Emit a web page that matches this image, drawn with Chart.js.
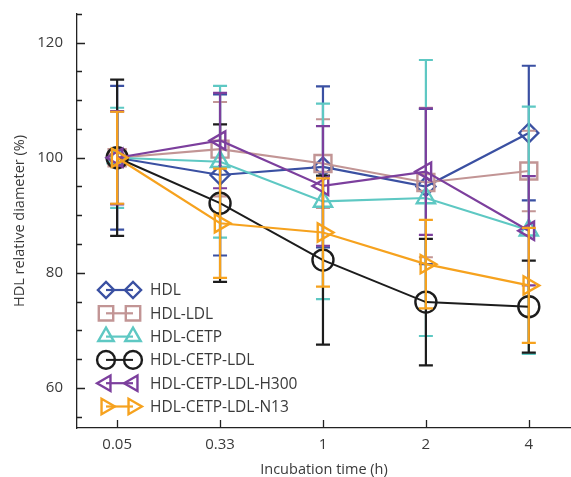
<!DOCTYPE html>
<html><head><meta charset="utf-8">
<script src="https://cdn.jsdelivr.net/npm/chart.js@4/dist/chart.umd.min.js"></script>
<style>html,body{margin:0;padding:0;background:#fff}#wrap{width:571px;height:477px}</style>
</head><body><div id="wrap"><canvas id="c" width="571" height="477"></canvas></div>
<script>
// ---- data ----
const timeLabels = ['0.05', '0.33', '1', '2', '4'];
const seriesNames = ['HDL', 'HDL-LDL', 'HDL-CETP', 'HDL-CETP-LDL', 'HDL-CETP-LDL-H300', 'HDL-CETP-LDL-N13'];
const hdl = [100, 97.0, 98.4, 95.0, 104.3];
const hdlErr = [12.5, 14.0, 14.0, 13.5, 11.7];
const hdlLdl = [100, 101.5, 99.0, 95.7, 97.7];
const hdlLdlErr = [8.0, 8.2, 7.7, 13.0, 7.0];
const hdlCetp = [100, 99.3, 92.4, 93.0, 87.4];
const hdlCetpErr = [8.7, 13.2, 17.0, 24.0, 21.5];
const hdlCetpLdl = [100, 92.1, 82.2, 74.9, 74.1];
const hdlCetpLdlErr = [13.6, 13.7, 14.7, 11.0, 8.0];
const hdlCetpLdlH300 = [100, 103.0, 95.1, 97.6, 87.3];
const hdlCetpLdlH300Err = [8.1, 8.3, 10.4, 11.0, 9.5];
const hdlCetpLdlN13 = [100, 88.6, 87.0, 81.5, 77.8];
const hdlCetpLdlN13Err = [8.0, 9.5, 9.4, 7.7, 10.0];
const yTicks = [60, 80, 100, 120];
const yMinorStep = 5;

const allValues = [hdl, hdlLdl, hdlCetp, hdlCetpLdl, hdlCetpLdlH300, hdlCetpLdlN13];
const allErrors = [hdlErr, hdlLdlErr, hdlCetpErr, hdlCetpLdlErr, hdlCetpLdlH300Err, hdlCetpLdlN13Err];

// ---- styles ----
const colors = ['#3a50a2', '#c29595', '#5ec8c3', '#1c1c1c', '#7c3f9d', '#f6a21e'];
const pStyles = ['rectRot', 'rect', 'triangle', 'circle', 'triangle', 'triangle'];
const pRot = [0, 0, 0, 0, -90, 90];
const pRad = [9.5, 12, 10.5, 10.5, 10.5, 10.5];
const lineW = [2.2, 2.2, 2.2, 2, 2.2, 2.2];
const textColor = '#3a3a3a';
const fontFam = "'Open Sans', 'Noto Sans', sans-serif";

const datasets = seriesNames.map((name, s) => ({
  label: name,
  data: allValues[s].map((v, i) => ({x: i, y: v})),
  errors: allErrors[s],
  borderColor: colors[s],
  borderWidth: lineW[s],
  backgroundColor: 'rgba(0,0,0,0)',
  pointStyle: pStyles[s],
  pointRotation: pRot[s],
  pointRadius: pRad[s],
  pointBorderWidth: 2.4,
  pointBorderColor: colors[s],
  pointBackgroundColor: 'rgba(0,0,0,0)',
  tension: 0,
  fill: false,
  order: seriesNames.length - s,
  clip: false
}));

const errorBars = {
  id: 'errorBars',
  beforeDatasetDraw(chart, args) {
    const ds = chart.data.datasets[args.index];
    const xs = chart.scales.x, ys = chart.scales.y, ctx = chart.ctx;
    ctx.save();
    ctx.strokeStyle = ds.borderColor;
    ctx.lineWidth = 2.2;
    ds.data.forEach((p, i) => {
      const e = ds.errors[i];
      const x = xs.getPixelForValue(p.x);
      const y1 = ys.getPixelForValue(p.y + e), y2 = ys.getPixelForValue(p.y - e);
      ctx.beginPath();
      ctx.moveTo(x, y1); ctx.lineTo(x, y2);
      ctx.moveTo(x - 7, y1); ctx.lineTo(x + 7, y1);
      ctx.moveTo(x - 7, y2); ctx.lineTo(x + 7, y2);
      ctx.stroke();
    });
    ctx.restore();
  }
};

const axisTicks = {
  id: 'axisTicks',
  afterDraw(chart) {
    const {ctx, chartArea: a, scales: {x, y}} = chart;
    ctx.save();
    ctx.strokeStyle = '#222';
    ctx.lineWidth = 1.3;
    ctx.beginPath();
    for (let v = Math.ceil(y.min / yMinorStep) * yMinorStep; v <= y.max; v += yMinorStep) {
      const py = Math.round(y.getPixelForValue(v)) + 0.5;
      const len = yTicks.includes(v) ? 8 : 5;
      ctx.moveTo(a.left, py); ctx.lineTo(a.left + len, py);
    }
    timeLabels.forEach((_, i) => {
      const px = Math.round(x.getPixelForValue(i)) + 0.5;
      ctx.moveTo(px, a.bottom); ctx.lineTo(px, a.bottom - 8);
    });
    ctx.stroke();
    ctx.restore();
  }
};

const pairLegend = {
  id: 'pairLegend',
  afterDraw(chart) {
    const ctx = chart.ctx;
    const x1 = 106, x2 = 133, tx = 150, y0 = 290, dy = 23.3;
    ctx.save();
    chart.data.datasets.forEach((ds, s) => {
      const yy = y0 + s * dy;
      ctx.strokeStyle = ds.borderColor;
      ctx.fillStyle = 'rgba(0,0,0,0)';
      ctx.lineWidth = ds.borderWidth;
      ctx.beginPath(); ctx.moveTo(x1, yy); ctx.lineTo(x2, yy); ctx.stroke();
      ctx.lineWidth = 2.4;
      [x1, x2].forEach(px => {
        Chart.helpers.drawPoint(ctx, {pointStyle: ds.pointStyle, rotation: ds.pointRotation,
          radius: ds.pointRadius * 0.85, borderWidth: 2.4}, px, yy);
      });
      ctx.fillStyle = textColor;
      ctx.font = "15.5px " + fontFam;
      ctx.textBaseline = 'middle';
      ctx.textAlign = 'left';
      ctx.fillText(ds.label, tx, yy + 1);
    });
    ctx.restore();
  }
};

new Chart(document.getElementById('c'), {
  type: 'line',
  data: {datasets},
  plugins: [errorBars, axisTicks, pairLegend],
  options: {
    responsive: false,
    animation: false,
    events: [],
    layout: {autoPadding: false, padding: {top: 14, right: 0, left: 0, bottom: 0}},
    plugins: {legend: {display: false}, tooltip: {enabled: false}},
    scales: {
      x: {
        type: 'linear', min: -0.39, max: 4.41,
        afterFit(s) { s.height = 49; s.paddingLeft = 0; s.paddingRight = 0; },
        afterBuildTicks(s) { s.ticks = timeLabels.map((_, i) => ({value: i})); },
        ticks: {callback: v => timeLabels[v], padding: 8, color: textColor,
          font: {family: fontFam, size: 15}, maxRotation: 0, autoSkip: false},
        grid: {display: false, drawTicks: false},
        border: {display: true, color: '#222', width: 1.3},
        title: {display: true, text: 'Incubation time (h)', color: textColor,
          font: {family: fontFam, size: 14.5, lineHeight: 1}, padding: {top: 0, bottom: 0}}
      },
      y: {
        min: 53, max: 125,
        afterFit(s) { s.width = 77; s.paddingTop = 0; s.paddingBottom = 0; },
        afterBuildTicks(s) { s.ticks = yTicks.map(v => ({value: v})); },
        ticks: {padding: 14, color: textColor, font: {family: fontFam, size: 15}},
        grid: {display: false, drawTicks: false},
        border: {display: true, color: '#222', width: 1.3},
        title: {display: true, text: 'HDL relative diameter (%)', color: textColor,
          font: {family: fontFam, size: 14.5, lineHeight: 1}, padding: {top: 13, bottom: 0}}
      }
    }
  }
});
</script>
</body></html>
